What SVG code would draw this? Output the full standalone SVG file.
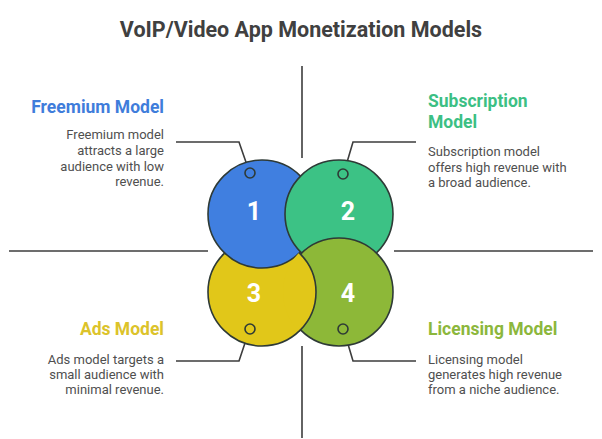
<svg xmlns="http://www.w3.org/2000/svg" width="602" height="439" viewBox="0 0 602 439">
  <style>
    .title { font-family: Roboto, "Liberation Sans", sans-serif; font-weight: 700; font-size: 21.5px; fill: #404040; text-anchor: middle; }
    .head { font-family: Roboto, "Liberation Sans", sans-serif; font-weight: 700; font-size: 17.5px; }
    .body { font-family: Roboto, "Liberation Sans", sans-serif; font-size: 13px; fill: #4f4f4f; }
    .num { font-family: Roboto, "Liberation Sans", sans-serif; font-weight: 700; font-size: 25px; fill: #ffffff; text-anchor: middle; }
    .big { stroke: #2e3a36; stroke-width: 1.6; }
    .dot { stroke: #2e3a36; stroke-width: 1.6; }
    .line { fill: none; stroke: #3d3d3d; stroke-width: 1.6; }
    .r { text-anchor: end; }
    .l { text-anchor: start; }
  </style>
  <defs>
    <clipPath id="clip4"><circle cx="339" cy="292" r="56"/></clipPath>
  </defs>
  <rect width="602" height="439" fill="#ffffff"/>
  <text class="title" x="301" y="37">VoIP/Video App Monetization Models</text>

  <g id="connectors">
    <line class="line" x1="302" y1="66" x2="302" y2="158"/>
    <line class="line" x1="302" y1="346" x2="302" y2="438"/>
    <line class="line" x1="9" y1="251" x2="208" y2="251"/>
    <line class="line" x1="394" y1="251" x2="593" y2="251"/>
    <path class="line" d="M176,142 L239,142 L248,168"/>
    <path class="line" d="M416,142 L353,142 L345,169"/>
    <path class="line" d="M176,361 L239,361 L248,334"/>
    <path class="line" d="M416,361 L353,361 L345,334"/>
  </g>

  <g id="node-3">
    <circle class="big" cx="262" cy="292" r="54" fill="#e1c719"/>
    <text class="num" x="254" y="302">3</text>
    <circle class="dot" cx="250" cy="329" r="5" fill="#e1c719"/>
    <text class="head r" x="164" y="335" fill="#dcc32a">Ads Model</text>
    <text class="body r" x="164" y="364">Ads model targets a</text>
    <text class="body r" x="164" y="379">small audience with</text>
    <text class="body r" x="164" y="394">minimal revenue.</text>
  </g>

  <g id="node-1">
    <circle class="big" cx="262" cy="214" r="54" fill="#407fe0"/>
    <text class="num" x="254" y="220">1</text>
    <circle class="dot" cx="250" cy="173" r="5" fill="#407fe0"/>
    <text class="head r" x="164" y="113" fill="#3f7ddb">Freemium Model</text>
    <text class="body r" x="164" y="139">Freemium model</text>
    <text class="body r" x="164" y="155">attracts a large</text>
    <text class="body r" x="164" y="171">audience with low</text>
    <text class="body r" x="164" y="186">revenue.</text>
  </g>

  <g id="node-2">
    <circle class="big" cx="339" cy="214" r="54" fill="#3cc285"/>
    <text class="num" x="348" y="220">2</text>
    <circle class="dot" cx="343" cy="174" r="5" fill="#3cc285"/>
    <text class="head l" x="428" y="107" fill="#3cbf84">Subscription</text>
    <text class="head l" x="428" y="128" fill="#3cbf84">Model</text>
    <text class="body l" x="428" y="156">Subscription model</text>
    <text class="body l" x="428" y="172">offers high revenue with</text>
    <text class="body l" x="428" y="187">a broad audience.</text>
  </g>

  <g id="node-4">
    <circle class="big" cx="339" cy="292" r="54" fill="#8db838"/>
    <text class="num" x="348" y="302">4</text>
    <circle class="dot" cx="343" cy="329" r="5" fill="#8db838"/>
    <text class="head l" x="428" y="335" fill="#8cb73c">Licensing Model</text>
    <text class="body l" x="428" y="364">Licensing model</text>
    <text class="body l" x="428" y="379">generates high revenue</text>
    <text class="body l" x="428" y="394">from a niche audience.</text>
  </g>

  <g id="overlap-3-over-4" clip-path="url(#clip4)">
    <circle class="big" cx="262" cy="292" r="54" fill="#e1c719"/>
  </g>
</svg>
